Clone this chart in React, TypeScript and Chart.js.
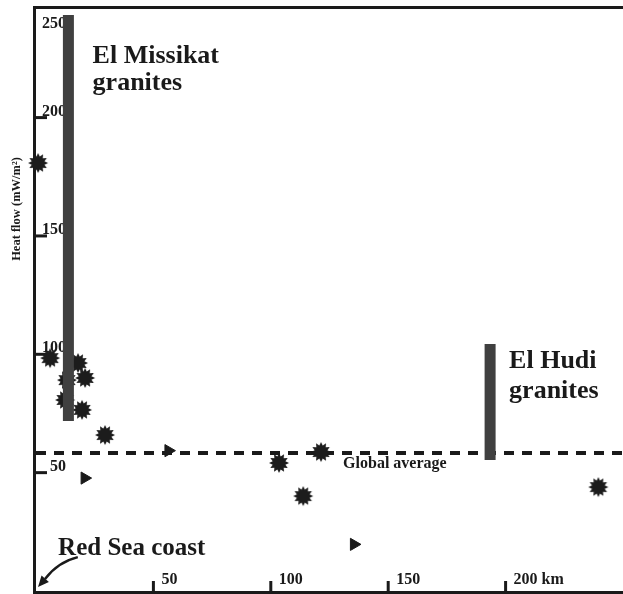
import React, { useEffect, useRef } from "react";
import { Chart, registerables } from "chart.js";

Chart.register(...registerables);

// Heat-flow sites (km from Red Sea coast, mW/m²)
const starX = [0.9, 6.0, 17.9, 13.2, 20.9, 12.4, 19.6, 29.4, 103.5, 113.8, 121.4, 239.5];
const starY = [180.8, 98.4, 96.3, 89.1, 90.0, 80.7, 76.5, 65.9, 54.1, 40.1, 58.7, 43.9];
const triX = [20.7, 56.4, 135.4];
const triY = [47.7, 59.3, 19.7];
const globalAverage = 58.3;
const missikatX = 13.8;
const missikatRange = [71.8, 243.3];
const hudiX = 193.4;
const hudiRange = [55.3, 104.4];
const xTicks = [50, 100, 150, 200];
const xTickLabels = ["50", "100", "150", "200 km"];
const yTicks = [50, 100, 150, 200, 250];
const yTickLabels = ["50", "100", "150", "200", "250"];
const xMax = 250;
const yMax = 246.3;

const SERIF = '"Liberation Serif", "Times New Roman", serif';

function makeStar(): HTMLCanvasElement {
  const c = document.createElement("canvas");
  c.width = 24;
  c.height = 24;
  const ctx = c.getContext("2d")!;
  const n = 12;
  const ro = 10;
  const ri = 6.6;
  ctx.beginPath();
  for (let i = 0; i < n * 2; i++) {
    const r = i % 2 === 0 ? ro : ri;
    const a = (Math.PI * i) / n - Math.PI / 2;
    const px = 12 + r * Math.cos(a);
    const py = 12 + r * Math.sin(a);
    if (i === 0) ctx.moveTo(px, py);
    else ctx.lineTo(px, py);
  }
  ctx.closePath();
  ctx.fillStyle = "#1c1c1c";
  ctx.fill();
  return c;
}

const decorPlugin = {
  id: "decor",
  beforeDatasetsDraw(chart: any) {
    const { ctx, chartArea, scales } = chart;
    const xs = scales.x;
    const ys = scales.y;
    const L = chartArea.left;
    const T = chartArea.top;
    const B = chartArea.bottom;
    const W = chart.width;
    ctx.save();
    ctx.strokeStyle = "#1a1a1a";
    ctx.lineWidth = 3;
    ctx.lineCap = "butt";
    // frame
    ctx.beginPath();
    ctx.moveTo(L - 1.5, T - 2);
    ctx.lineTo(L - 1.5, B + 3);
    ctx.moveTo(L - 3, T - 0.5);
    ctx.lineTo(W, T - 0.5);
    ctx.moveTo(L - 3, B + 1.5);
    ctx.lineTo(W, B + 1.5);
    ctx.stroke();
    // y ticks
    ctx.fillStyle = "#1a1a1a";
    ctx.font = `bold 16px ${SERIF}`;
    ctx.textAlign = "right";
    ctx.textBaseline = "alphabetic";
    yTicks.forEach((v, i) => {
      const py = ys.getPixelForValue(v);
      if (py >= T) {
        ctx.beginPath();
        ctx.moveTo(L - 1.5, py);
        ctx.lineTo(L + 11, py);
        ctx.stroke();
      }
      const ly = Math.max(py - 2, T + 20);
      ctx.fillText(yTickLabels[i], L + 30, ly);
    });
    // x ticks
    ctx.textAlign = "left";
    xTicks.forEach((v, i) => {
      const px = xs.getPixelForValue(v);
      ctx.beginPath();
      ctx.moveTo(px, B + 1.5);
      ctx.lineTo(px, B - 10);
      ctx.stroke();
      ctx.fillText(xTickLabels[i], px + 8, B - 7);
    });
    // y title
    ctx.save();
    ctx.translate(L - 19, T + 201);
    ctx.rotate(-Math.PI / 2);
    ctx.textAlign = "center";
    ctx.textBaseline = "middle";
    ctx.font = `bold 12.5px ${SERIF}`;
    ctx.fillText("Heat flow (mW/m\u00B2)", 0, 0);
    ctx.restore();
    ctx.restore();
  },
  afterDatasetsDraw(chart: any) {
    const { ctx, scales, chartArea } = chart;
    const xs = scales.x;
    const ys = scales.y;
    ctx.save();
    ctx.fillStyle = "#1a1a1a";
    ctx.textAlign = "left";
    ctx.textBaseline = "alphabetic";
    ctx.font = `bold 26px ${SERIF}`;
    ctx.fillText("El Missikat", xs.getPixelForValue(24.1), ys.getPixelForValue(223.2));
    ctx.fillText("granites", xs.getPixelForValue(24.1), ys.getPixelForValue(211.8));
    ctx.fillText("El Hudi", xs.getPixelForValue(201.5), ys.getPixelForValue(94.2));
    ctx.fillText("granites", xs.getPixelForValue(201.5), ys.getPixelForValue(81.6));
    ctx.font = `bold 16px ${SERIF}`;
    ctx.fillText("Global average", xs.getPixelForValue(130.8), ys.getPixelForValue(51.8));
    ctx.font = `bold 25px ${SERIF}`;
    ctx.fillText("Red Sea coast", xs.getPixelForValue(9.4), ys.getPixelForValue(15.2));
    // arrow
    const sx = xs.getPixelForValue(17.8);
    const sy = ys.getPixelForValue(14.3);
    const ex = chartArea.left + 2;
    const ey = chartArea.bottom - 4;
    const hx = ex + 7;
    const hy = ey - 8;
    ctx.strokeStyle = "#1a1a1a";
    ctx.lineWidth = 2.5;
    ctx.beginPath();
    ctx.moveTo(sx, sy);
    ctx.quadraticCurveTo(sx - 20, sy + 5, hx, hy);
    ctx.stroke();
    const ang = Math.atan2(ey - hy, ex - hx);
    const hl = 12;
    ctx.beginPath();
    ctx.moveTo(ex, ey);
    ctx.lineTo(ex - hl * Math.cos(ang - 0.42), ey - hl * Math.sin(ang - 0.42));
    ctx.lineTo(ex - hl * Math.cos(ang + 0.42), ey - hl * Math.sin(ang + 0.42));
    ctx.closePath();
    ctx.fill();
    ctx.restore();
  },
};

export default function App() {
  const ref = useRef<HTMLCanvasElement | null>(null);
  useEffect(() => {
    document.body.style.margin = "0";
    document.body.style.overflow = "hidden";
    document.documentElement.style.overflow = "hidden";
    if (!ref.current) return;
    const star = makeStar();
    const chart = new Chart(ref.current, {
      type: "line",
      data: {
        datasets: [
          {
            label: "El Missikat",
            data: missikatRange.map((y) => ({ x: missikatX, y })),
            borderColor: "#404040",
            borderWidth: 11,
            borderCapStyle: "butt",
            pointRadius: 0,
            order: 0,
          },
          {
            label: "El Hudi",
            data: hudiRange.map((y) => ({ x: hudiX, y })),
            borderColor: "#404040",
            borderWidth: 11,
            borderCapStyle: "butt",
            pointRadius: 0,
            order: 0,
          },
          {
            label: "Stars",
            data: starX.map((x, i) => ({ x, y: starY[i] })),
            showLine: false,
            pointStyle: star as any,
            pointRadius: 10,
            clip: false as any,
            order: 1,
          },
          {
            label: "Triangles",
            data: triX.map((x, i) => ({ x, y: triY[i] })),
            showLine: false,
            pointStyle: "triangle",
            rotation: 90,
            pointRadius: 7,
            pointBackgroundColor: "#1a1a1a",
            pointBorderColor: "#1a1a1a",
            pointBorderWidth: 1,
            order: 1,
          },
          {
            label: "Global average",
            data: [
              { x: 0, y: globalAverage },
              { x: xMax, y: globalAverage },
            ],
            borderColor: "#1a1a1a",
            borderWidth: 4,
            borderDash: [10, 8],
            borderCapStyle: "butt",
            pointRadius: 0,
            order: 2,
          },
        ],
      },
      options: {
        animation: false,
        responsive: false,
        devicePixelRatio: 1,
        events: [],
        layout: { autoPadding: false, padding: { left: 36, top: 8, right: 0, bottom: 3 } },
        plugins: { legend: { display: false }, tooltip: { enabled: false } },
        scales: {
          x: { type: "linear", min: 0, max: xMax, display: false },
          y: { type: "linear", min: 0, max: yMax, display: false },
        },
      },
      plugins: [decorPlugin],
    } as any);
    return () => chart.destroy();
  }, []);
  return (
    <div style={{ position: "fixed", left: 0, top: 0, width: 623, height: 594, overflow: "hidden", background: "#fff" }}>
      <canvas ref={ref} width={623} height={594} style={{ display: "block" }} />
    </div>
  );
}
